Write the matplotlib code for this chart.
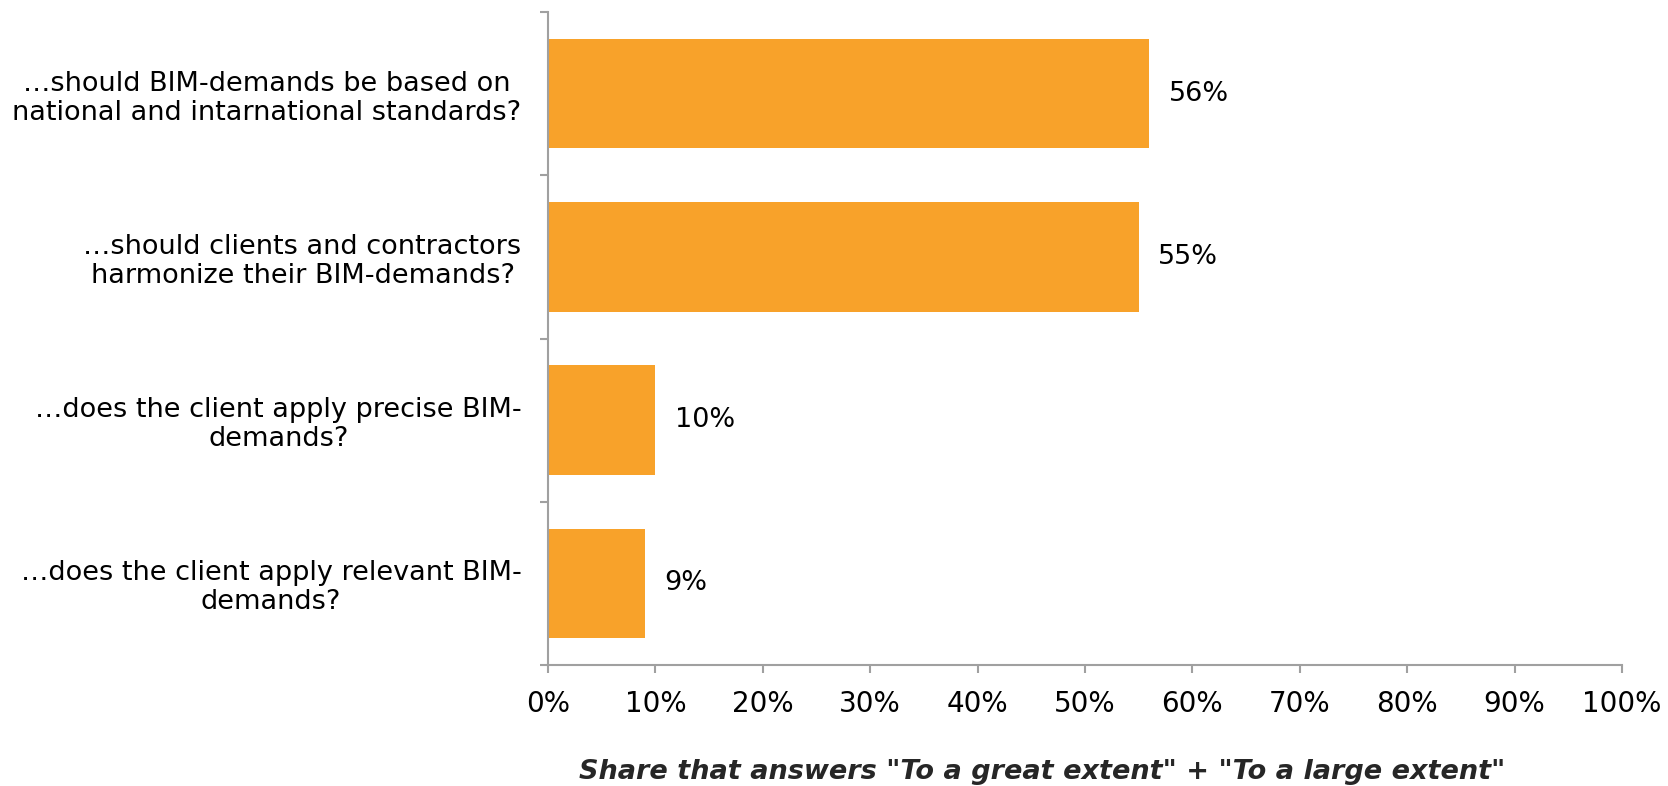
import matplotlib.pyplot as plt
import numpy as np

# survey answers, top row first
questions = [
    "\u2026should BIM-demands be based on\nnational and intarnational standards?",
    "\u2026should clients and contractors\nharmonize their BIM-demands?",
    "\u2026does the client apply precise BIM-\ndemands?",
    "\u2026does the client apply relevant BIM-\ndemands?",
]
share = [56, 55, 10, 9]
xticks = [0, 10, 20, 30, 40, 50, 60, 70, 80, 90, 100]

bar_color = '#F8A22A'
axis_color = '#A0A0A0'
fs = 19.5

fig = plt.figure(figsize=(16.68, 7.86), dpi=100)
ax = fig.add_axes([548 / 1668, 1 - 665 / 786, (1622 - 548) / 1668, (665 - 12) / 786])

y = np.arange(len(questions))
ax.barh(y, share, height=0.67, color=bar_color)
ax.set_ylim(len(questions) - 0.5, -0.5)
ax.set_xlim(0, 100)

for yi, v in zip(y, share):
    ax.annotate(f"{v}%", (v, yi), xytext=(14, 0), textcoords='offset points',
                va='center', ha='left', fontsize=fs)

# only left and bottom spines
for s in ['top', 'right']:
    ax.spines[s].set_visible(False)
for s in ['left', 'bottom']:
    ax.spines[s].set_color(axis_color)
    ax.spines[s].set_linewidth(1.5)

ax.set_xticks(xticks)
ax.set_xticklabels([f"{t}%" for t in xticks], fontsize=20)
ax.tick_params(axis='x', length=6, width=1.5, color=axis_color, pad=12)

# y ticks sit on the category boundaries, labels at the centres
ax.set_yticks(np.arange(len(questions) + 1) - 0.5)
ax.set_yticklabels([])
ax.tick_params(axis='y', which='major', length=6, width=1.5, color=axis_color)
ax.set_yticks(y, minor=True)
ax.set_yticklabels(questions, minor=True, fontsize=fs, linespacing=1.15,
                   multialignment='center')
ax.tick_params(axis='y', which='minor', length=0, pad=19)

fig.text(1042 / 1668, 1 - 772 / 786,
         'Share that answers "To a great extent" + "To a large extent"',
         ha='center', va='center', fontsize=fs, fontweight='bold',
         fontstyle='italic', color='#262626')

fig.savefig('out.png', dpi=100)
